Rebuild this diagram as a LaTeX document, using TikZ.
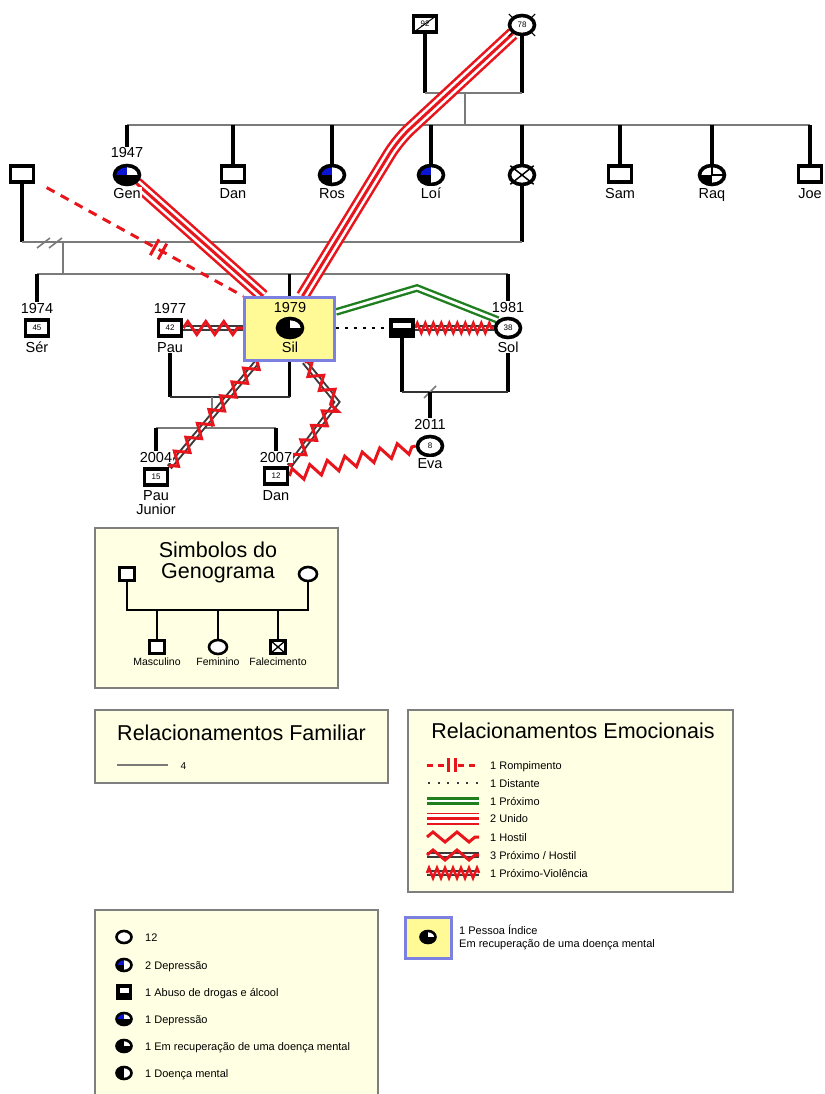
\documentclass[tikz,border=0pt]{standalone}
\usepackage{fontspec}
\setmainfont{Liberation Sans}
\usetikzlibrary{decorations.pathmorphing,calc,shapes.geometric}
\pgfdeclarelayer{fam}
\pgfdeclarelayer{rel}
\pgfsetlayers{fam,rel,main}
\definecolor{legbg}{HTML}{FFFFE3}
\definecolor{legbd}{HTML}{7F7F7F}
\definecolor{idxbg}{HTML}{FFFA96}
\definecolor{idxbd}{HTML}{7C80E0}
\definecolor{relred}{HTML}{E8161C}
\definecolor{relgreen}{HTML}{1F7F1F}
\definecolor{famgray}{HTML}{7A7A7A}
\definecolor{depblue}{HTML}{0A14D2}
\definecolor{darkrel}{HTML}{3A3A3A}
\tikzset{
  fs/.style={font=\fontsize{#1}{#1}\selectfont},
  male/.style={rectangle, draw, line width=3.6pt, fill=white, minimum width=23pt, minimum height=16pt, inner sep=0pt, fs=8},
  fem/.style={ellipse, draw, line width=3.6pt, fill=white, minimum width=25pt, minimum height=19pt, inner sep=0pt, fs=8},
  lmale/.style={rectangle, draw, line width=2.6pt, fill=white, minimum width=14pt, minimum height=12pt, inner sep=0pt},
  lfem/.style={ellipse, draw, line width=2.6pt, fill=white, minimum width=15pt, minimum height=12pt, inner sep=0pt},
  yr/.style={fs=14.5, anchor=base, inner sep=1pt, fill=white},
  nm/.style={fs=14.5, anchor=base, inner sep=1pt, fill=white},
  kin/.style={line width=3.4pt, black},
  famline/.style={line width=2.4pt, famgray},
  legbox/.style={rectangle, draw=legbd, fill=legbg, line width=1.4pt, inner sep=0pt},
  idxbox/.style={rectangle, draw=idxbd, fill=idxbg, line width=2.8pt, inner sep=0pt},
  ltxt/.style={fs=11, anchor=base west, inner sep=0pt},
  ttl/.style={fs=21.5, anchor=base, inner sep=0pt},
  depA/.style={path picture={
     \fill[depblue] (path picture bounding box.center) rectangle (path picture bounding box.north west);
     \fill[black] (path picture bounding box.center) rectangle (path picture bounding box.south west);}},
  depB/.style={path picture={
     \fill[depblue] (path picture bounding box.center) rectangle (path picture bounding box.north west);
     \fill[black] (path picture bounding box.west) rectangle (path picture bounding box.south east);}},
  recov/.style={path picture={
     \fill[black] (path picture bounding box.north) rectangle (path picture bounding box.south west);
     \fill[black] (path picture bounding box.center) rectangle (path picture bounding box.south east);}},
  mental/.style={path picture={
     \fill[black] (path picture bounding box.north) rectangle (path picture bounding box.south west);}},
  physq/.style={path picture={
     \fill[black] (path picture bounding box.center) rectangle (path picture bounding box.south west);
     \draw[line width=1.2pt] (path picture bounding box.north) -- (path picture bounding box.center) -- (path picture bounding box.east);}},
  abuse/.style={fill=black, path picture={
     \fill[white] ([shift={(2.5pt,-2.5pt)}]path picture bounding box.north west) rectangle ([shift={(-2.5pt,-7.5pt)}]path picture bounding box.north east);}},
  deadsq/.style={path picture={
     \draw[line width=1.3pt] (path picture bounding box.north west) -- (path picture bounding box.south east)
        (path picture bounding box.north east) -- (path picture bounding box.south west);}},
  romp/.style={draw=relred, line width=3pt, dash pattern=on 9pt off 7pt},
  rompmark/.style={draw=relred, line width=3pt},
  unido/.style={draw=relred, line width=13.5pt, postaction={draw=white, line width=8.3pt}, postaction={draw=relred, line width=3pt}},
  proximo/.style={draw=relgreen, line width=2.4pt, double=white, double distance=2.8pt},
  distante/.style={draw=black, line width=2.2pt, dash pattern=on 3pt off 6pt},
  hostil/.style={draw=relred, line width=3pt, decorate, decoration={zigzag, segment length=18pt, amplitude=6.5pt}},
  darkdouble/.style={draw=darkrel, line width=2pt, double=white, double distance=2pt},
  hostzig/.style={draw=relred, line width=3pt, decorate, decoration={zigzag, segment length=18pt, amplitude=6.5pt}},
  violzig/.style={draw=relred, line width=2.6pt, decorate, decoration={zigzag, segment length=8pt, amplitude=5pt}},
}
\newcommand\phline[1]{\draw[darkdouble] #1; \draw[hostzig] #1;}
\newcommand\pvline[1]{\draw[darkdouble] #1; \draw[violzig] #1;}
\begin{document}
\begin{tikzpicture}[x=1pt,y=-1pt]
\useasboundingbox (0,0) rectangle (824,1094);

% ---------------- people ----------------
\node[male] (gf) at (425,24) {92};
\node[fem] (gm) at (522,25) {78};

\node[fem,depB] (gen) at (127,175) {};
\node[male] (dan1) at (233,174) {};
\node[fem,depA] (ros) at (332,175) {};
\node[fem,depA] (loi) at (431,175) {};
\node[fem] (dec) at (522,175) {};
\node[male] (sam) at (620,174) {};
\node[fem,physq] (raq) at (712,175) {};
\node[male] (joe) at (810,174) {};
\node[male] (exh) at (22,174) {};

\node[yr] (genY) at (127,158) {1947};
\node[nm] (genN) at (127,198) {Gen};
\node[nm] (dan1N) at (233,198) {Dan};
\node[nm] (rosN) at (332,198) {Ros};
\node[nm] (loiN) at (431,198) {Loí};
\node[nm] (samN) at (620,198) {Sam};
\node[nm] (raqN) at (712,198) {Raq};
\node[nm] (joeN) at (810,198) {Joe};

\node[male] (ser) at (37,328) {45};
\node[yr] (serY) at (37,313) {1974};
\node[nm] (serN) at (37,352) {Sér};
\node[male] (pau) at (170,328) {42};
\node[yr] (pauY) at (170,313) {1977};
\node[nm] (pauN) at (170,352) {Pau};
\node[idxbox, minimum width=90pt, minimum height=63pt] (silbox) at (289.5,329) {};
\node[yr, fill=none] (silY) at (290,312) {1979};
\node[fem, recov] (sil) at (290,328) {};
\node[nm, fill=none] (silN) at (290,352) {Sil};
\node[male, abuse] (solp) at (402,328) {};
\node[fem] (sol) at (508,328) {38};
\node[yr] (solY) at (508,312) {1981};
\node[nm] (solN) at (508,352) {Sol};

\node[male] (pj) at (156,477) {15};
\node[yr] (pjY) at (156,462) {2004};
\node[nm] (pjN) at (156,500) {Pau};
\node[nm] (pjN2) at (156,514) {Junior};
\node[male] (dan2) at (276,476) {12};
\node[yr] (dan2Y) at (276,462) {2007};
\node[nm] (dan2N) at (276,500) {Dan};
\node[fem] (eva) at (430,446) {8};
\node[yr] (evaY) at (430,429) {2011};
\node[nm] (evaN) at (430,468) {Eva};

% deceased marks
\draw[line width=1pt] ([shift={(4,-3)}]gf.south west) -- ([shift={(-4,3)}]gf.north east);
\draw[line width=1.2pt] (gm.north west) -- ++(-3,-3) (gm.north east) -- ++(3,-3)
  (gm.south west) -- ++(-3,3) (gm.south east) -- ++(3,3);
\draw[line width=1.5pt, shorten <=-2pt, shorten >=-2pt] (dec.north west) -- (dec.south east);
\draw[line width=1.5pt, shorten <=-2pt, shorten >=-2pt] (dec.north east) -- (dec.south west);

% ---------------- family lines ----------------
\coordinate (m1c) at (465,93);
\coordinate (s1c) at (465,125);
\coordinate (m2c) at (63,242);
\coordinate (s2c) at (63,274);
\coordinate (m3c) at (212,397);
\coordinate (s3c) at (212,428);
\coordinate (m4c) at (430,392);
\begin{pgfonlayer}{fam}
\draw[kin] (gf.south) -- (gf.south |- m1c);
\draw[kin] (gm.south) -- (gm.south |- m1c);
\draw[famline] (gf.south |- m1c) -- (gm.south |- m1c);
\draw[famline] (m1c) -- (s1c);
\draw[famline] (gen.north |- s1c) -- (joe.north |- s1c);
\draw[kin] (gen.north |- s1c) -- (genY.north);
\foreach \p in {dan1,ros,loi,dec,sam,raq,joe}
  \draw[kin] (\p.north |- s1c) -- (\p.north);
% exh + dec marriage
\draw[kin] (exh.south) -- (exh.south |- m2c);
\draw[kin] (dec.south) -- (dec.south |- m2c);
\draw[famline] (exh.south |- m2c) -- (dec.south |- m2c);
\draw[famline, line width=1.6pt] ([shift={(-26,6)}]m2c) -- ++(13,-10);
\draw[famline, line width=1.6pt] ([shift={(-14,6)}]m2c) -- ++(13,-10);
\draw[famline] (m2c) -- (s2c);
\draw[famline] (serY.north |- s2c) -- (solY.north |- s2c);
\draw[kin] (serY.north |- s2c) -- (serY.north);
\draw[kin] (silbox.north |- s2c) -- (silbox.north);
\draw[kin] (solY.north |- s2c) -- (solY.north);
% Pau + Sil
\draw[kin] (pauN.south) -- (pauN.south |- m3c);
\draw[kin] (silbox.south) -- (silbox.south |- m3c);
\draw[line width=2.4pt, black!80] (pauN.south |- m3c) -- (silbox.south |- m3c);
\draw[famline] (m3c) -- (s3c);
\draw[famline] (pjY.north |- s3c) -- (dan2Y.north |- s3c);
\draw[kin] (pjY.north |- s3c) -- (pjY.north);
\draw[kin] (dan2Y.north |- s3c) -- (dan2Y.north);
% SolP + Sol
\draw[kin] (solp.south) -- (solp.south |- m4c);
\draw[kin] (solN.south) -- (solN.south |- m4c);
\draw[line width=2.4pt, black!80] (solp.south |- m4c) -- (solN.south |- m4c);
\draw[famline, line width=1.6pt] ([shift={(-6,6)}]m4c) -- ++(12,-12);
\draw[kin] (m4c) -- (evaY.north);
\end{pgfonlayer}

% ---------------- emotional relationships ----------------
\begin{pgfonlayer}{rel}
\draw[romp, shorten <=13pt] (exh) -- (silbox.north west);
\coordinate (cutA) at ($(exh)!0.60!(silbox.north west)$);
\coordinate (cutB) at ($(exh)!0.635!(silbox.north west)$);
\draw[rompmark] ($(cutA)!9pt!90:(silbox.north west)$) -- ($(cutA)!9pt!-90:(silbox.north west)$);
\draw[rompmark] ($(cutB)!9pt!90:(silbox.north west)$) -- ($(cutB)!9pt!-90:(silbox.north west)$);
\draw[unido] (gen) -- ($(silbox.north west)+(20,0)$);
\coordinate (bendA) at (398,140);
\draw[unido, rounded corners=16pt] (gm) -- (bendA) -- ($(silbox.north)+(13,0)$);
\phline{(pau.east) -- (pau.east -| silbox.west)}
\phline{($(silbox.south west)+(14,0)$) -- (pj.north east)}
\coordinate (bendB) at (337,402);
\phline{($(silbox.south)+(15,0)$) -- (bendB) -- (dan2.north east)}
\draw[hostil] (dan2.east) -- (eva.west);
\coordinate (bendC) at (417,288);
\draw[proximo] ($(silbox.east)+(0,-17)$) -- (bendC) -- (sol.north west);
\draw[distante] (silbox.east |- solp.west) -- (solp.west);
\pvline{(solp.east) -- (sol.west)}
\end{pgfonlayer}

% ---------------- legend 1: symbols ----------------
\node[legbox, minimum width=243pt, minimum height=160pt] (symbox) at (216.5,608) {};
\node[ttl] (symt1) at (218,557) {Simbolos do};
\node[ttl] (symt2) at (218,578) {Genograma};
\node[lmale, minimum width=15pt, minimum height=13pt] (lsq) at (127,574) {};
\node[lfem, minimum width=18pt, minimum height=14pt] (lci) at (308,574) {};
\node[lmale, minimum width=15pt, minimum height=13pt] (lc1) at (157,647) {};
\node[lfem, minimum width=18pt, minimum height=14pt] (lc2) at (218,647) {};
\node[lmale, deadsq, minimum width=15pt, minimum height=13pt] (lc3) at (278,647) {};
\coordinate (lm) at (218,610);
\draw[line width=2.6pt] (lsq.south) -- (lsq.south |- lm) -- (lci.south |- lm) -- (lci.south);
\draw[line width=2.6pt] (lc1.north |- lm) -- (lc1.north);
\draw[line width=2.6pt] (lc2.north |- lm) -- (lc2.north);
\draw[line width=2.6pt] (lc3.north |- lm) -- (lc3.north);
\node[fs=10.5, anchor=base] (lt1) at (157,665) {Masculino};
\node[fs=10.5, anchor=base] (lt2) at (218,665) {Feminino};
\node[fs=10.5, anchor=base] (lt3) at (278,665) {Falecimento};

% ---------------- legend 2: family ----------------
\node[legbox, minimum width=293pt, minimum height=73pt] (fambox) at (241.5,746.5) {};
\node[ttl] (famt) at (241.5,740) {Relacionamentos Familiar};
\draw[famline, line width=2.8pt] (117,765) -- (168,765);
\node[fs=10, anchor=base west] (famn) at (177,769) {4};

% ---------------- legend 3: emotional ----------------
\node[legbox, minimum width=325pt, minimum height=182pt] (emobox) at (570.5,801) {};
\node[ttl] (emot) at (573,738) {Relacionamentos Emocionais};
\draw[romp, dash pattern=on 6pt off 5pt] (427,765) -- (444,765);
\draw[romp, dash pattern=on 6pt off 5pt] (458,765) -- (479,765);
\draw[rompmark] (448,758) -- (448,772);
\draw[rompmark] (455,758) -- (455,772);
\draw[draw=darkrel, line width=2.2pt, dash pattern=on 2pt off 7.5pt] (428,783) -- (479,783);
\draw[proximo] (427,801) -- (479,801);
\draw[unido, line width=12pt, postaction={draw=white, line width=7.4pt}, postaction={draw=relred, line width=2.8pt}] (427,818.5) -- (479,818.5);
\draw[hostil, decoration={zigzag, segment length=24pt, amplitude=5pt}] (427,837) -- (479,837);
\draw[darkdouble] (427,855) -- (479,855);
\draw[hostil, decoration={zigzag, segment length=24pt, amplitude=5pt}] (427,855) -- (479,855);
\pvline{(427,873) -- (479,873)}
\node[ltxt] (e1) at (490,769) {1 Rompimento};
\node[ltxt] (e2) at (490,787) {1 Distante};
\node[ltxt] (e3) at (490,805) {1 Próximo};
\node[ltxt] (e4) at (490,822.5) {2 Unido};
\node[ltxt] (e5) at (490,841) {1 Hostil};
\node[ltxt] (e6) at (490,859) {3 Próximo / Hostil};
\node[ltxt] (e7) at (490,877) {1 Próximo-Violência};

% ---------------- legend 4: conditions ----------------
\node[legbox, minimum width=283pt, minimum height=200pt] (condbox) at (236.5,1010) {};
\node[lfem] (ci1) at (124,937) {};
\node[lfem, depA] (ci2) at (124,965) {};
\node[lmale, abuse, minimum height=13pt] (ci3) at (124,992) {};
\node[lfem, depB] (ci4) at (124,1019) {};
\node[lfem, recov] (ci5) at (124,1046) {};
\node[lfem, mental] (ci6) at (124,1073) {};
\node[ltxt] (ct1) at (145,941) {12};
\node[ltxt] (ct2) at (145,969) {2 Depressão};
\node[ltxt] (ct3) at (145,996) {1 Abuso de drogas e álcool};
\node[ltxt] (ct4) at (145,1023) {1 Depressão};
\node[ltxt] (ct5) at (145,1050) {1 Em recuperação de uma doença mental};
\node[ltxt] (ct6) at (145,1077) {1 Doença mental};

% ---------------- legend 5: index person ----------------
\node[idxbox, minimum width=46pt, minimum height=41pt] (idxl) at (428.5,938) {};
\node[lfem, recov] (idxs) at (428,937) {};
\node[ltxt] (it1) at (459,934) {1 Pessoa Índice};
\node[ltxt] (it2) at (459,947) {Em recuperação de uma doença mental};
\end{tikzpicture}
\end{document}
